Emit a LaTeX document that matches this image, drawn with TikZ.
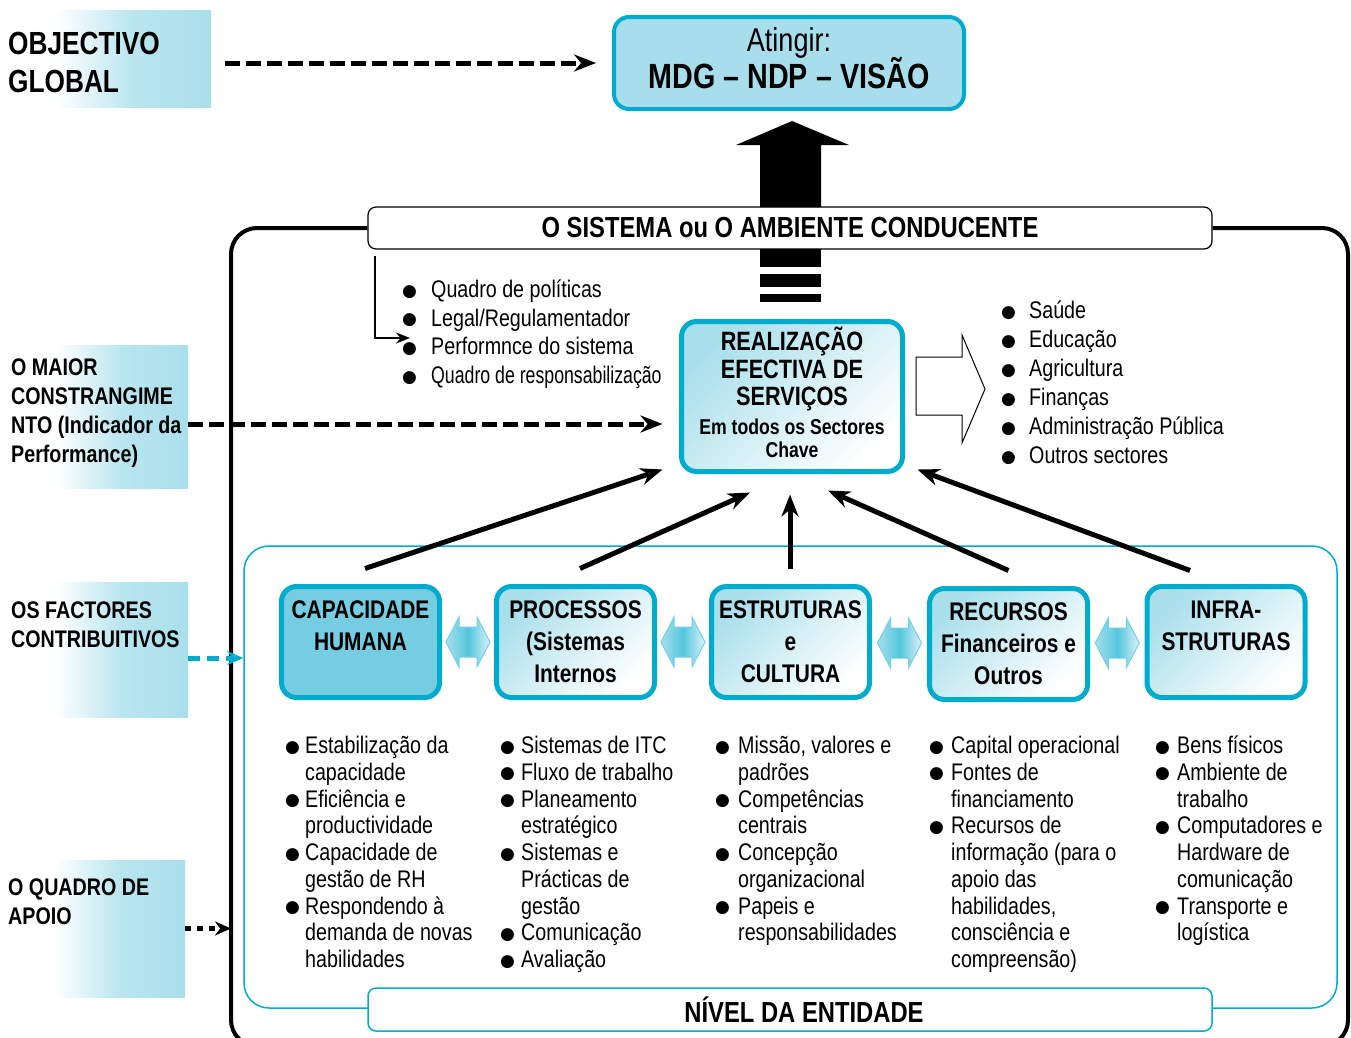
\documentclass[tikz,border=0pt]{standalone}
\usepackage{fontspec}
\setmainfont[FakeStretch=0.82]{Liberation Sans}
\newfontfamily\bulletfont{DejaVu Sans}
\usepackage{graphicx}
\usetikzlibrary{arrows.meta,calc}

\definecolor{cyanline}{RGB}{0,172,206}
\definecolor{cyanfill}{RGB}{168,222,236}
\definecolor{capfill}{RGB}{118,205,225}
\definecolor{lblue}{RGB}{168,223,235}
\definecolor{cyanmid}{RGB}{40,184,214}

\newcommand{\bul}{\raisebox{1.5pt}{\bulletfont\fontsize{17}{17}\selectfont ●}}
\newcommand{\labelfnt}{\bfseries\fontsize{24}{29}\selectfont}
\newcommand{\objfnt}{\bfseries\fontsize{32}{38}\selectfont}
\newcommand{\boxfnt}{\bfseries\fontsize{25.5}{32}\selectfont}
\newcommand{\headfnt}{\bfseries\fontsize{29}{34}\selectfont}

\begin{document}
\begin{tikzpicture}[x=1pt,y=-1pt,
    lbox/.style={inner sep=0pt, left color=white, right color=lblue, middle color=lblue!80},
    ltext/.style={anchor=west, align=left, inner sep=0pt, font=\labelfnt},
    keybase/.style={draw=cyanline, line width=5pt, rounded corners=15pt, minimum width=158pt,
      minimum height=111pt, inner sep=2pt, align=center, font=\boxfnt},
    gradbox/.style={keybase, top color=lblue, bottom color=white, shading angle=45},
    lst/.style={anchor=base west, inner sep=0pt},
    dasharr/.style={line width=5pt, dash pattern=on 15pt off 6pt, -{Stealth[length=22pt,width=17pt]}},
    uparr/.style={line width=5pt, -{Stealth[length=22pt,width=17pt]}},
    cyandash/.style={cyanline, line width=5pt, dash pattern=on 12pt off 7pt, -{Stealth[length=16pt,width=14pt]}},
    dotarr/.style={line width=5pt, dash pattern=on 6pt off 6pt, -{Stealth[length=16pt,width=14pt]}},
    dblarr/.style={draw=cyanline!55, line width=1pt, left color=lblue, right color=lblue!40, middle color=cyanmid!80}]

\useasboundingbox[fill=white] (0,0) rectangle (1351,1037);

% left labels
\node[lbox, minimum width=156pt, minimum height=97pt] (objbox) at (133,58.5) {};
\node[lbox, minimum width=133pt, minimum height=143pt] (maibox) at (121.5,416.5) {};
\node[lbox, minimum width=133pt, minimum height=135pt] (facbox) at (121.5,649.5) {};
\node[lbox, minimum width=130pt, minimum height=137pt] (apobox) at (120,928.5) {};
\node[ltext, font=\objfnt] (objtxt) at (8,62) {OBJECTIVO\\GLOBAL};
\node[ltext] (maitxt) at (11,413.5) {O MAIOR\\CONSTRANGIME\\NTO (Indicador da\\Performance)};
\node[ltext] (factxt) at (11,624.5) {OS FACTORES\\CONTRIBUITIVOS};
\node[ltext] (apotxt) at (8,902) {O QUADRO DE\\APOIO};

% frames
\node[draw, line width=1.2pt, fill=white, rounded corners=8pt, minimum width=844pt, minimum height=42pt,
  font=\headfnt] (sys) at (790,228) {O SISTEMA ou O AMBIENTE CONDUCENTE};
\draw[line width=4pt, rounded corners=26pt] (sys.west) -- (231,228) -- (231,1046) -- (1348,1046)
  -- (1348,228) -- (sys.east);
\coordinate (fl) at (231,228);
\node[draw=cyanline, line width=1.5pt, rounded corners=25pt, minimum width=1093pt, minimum height=462pt,
  inner sep=0pt] (ent) at (790.5,777) {};
\node[draw=cyanline, line width=1.5pt, fill=white, rounded corners=8pt, minimum width=844pt,
  minimum height=43pt, font=\headfnt] (niv) at (790,1009.5) {\hspace*{28pt}NÍVEL DA ENTIDADE};

% goal
\node[draw=cyanline, line width=4pt, fill=cyanfill, rounded corners=15pt, minimum width=350pt,
  minimum height=92pt, font=\fontsize{33}{36}\selectfont] (ating) at (789,63)
  {\begin{tabular}{@{}c@{}}Atingir:\\[-5pt]{\bfseries\fontsize{35}{36}\selectfont MDG – NDP – VISÃO}\end{tabular}};
\fill (760,207) -- (760,145) -- (736,145) -- (792,121) -- (849,145) -- (821,145) -- (821,207) -- cycle;
\fill (760,249) rectangle (821,267);
\fill (760,274) rectangle (821,287);
\fill (760,294) rectangle (821,302);

% service delivery
\node[gradbox, minimum width=221pt, minimum height=150pt, font=\bfseries\fontsize{26.5}{27.5}\selectfont]
  (real) at (792,396.5) {\raisebox{-2pt}{\begin{tabular}{@{}c@{}}REALIZAÇÃO\\EFECTIVA DE\\SERVIÇOS\\[1pt]
   {\fontsize{21.5}{24}\selectfont Em todos os Sectores}\\[-4pt]{\fontsize{21.5}{24}\selectfont Chave}\end{tabular}}};
\draw[line width=1pt, fill=white] (916,357) -- (962,357) -- (962,335) -- (985,389) -- (962,443)
  -- (962,415) -- (916,415) -- cycle;

\node[lst, font=\fontsize{24}{28.7}\selectfont] (lsys) at (402,297.5) {\begin{tabular}[t]{@{}p{29pt}@{}l@{}}
  \bul & Quadro de políticas\\
  \bul & Legal/Regulamentador\\
  \bul & Performnce do sistema\\
  \bul & \scalebox{0.9}[1]{Quadro de responsabilização}
  \end{tabular}};
\node[lst, font=\fontsize{24}{29}\selectfont] (lsec) at (1001,318.5) {\begin{tabular}[t]{@{}p{28pt}@{}l@{}}
  \bul & Saúde\\
  \bul & Educação\\
  \bul & Agricultura\\
  \bul & Finanças\\
  \bul & Administração Pública\\
  \bul & Outros sectores
  \end{tabular}};
\coordinate (b1) at (375,256);
\draw[line width=2pt, -{Stealth[length=14pt,width=11pt]}] (b1) |- (410,338);

% contributing factors
\node[keybase, fill=capfill] (cap) at (360.5,642) {CAPACIDADE\\HUMANA\\\phantom{X}};
\node[gradbox] (proc) at (575.5,642) {PROCESSOS\\(Sistemas\\Internos};
\node[gradbox] (estr) at (790.5,642) {ESTRUTURAS\\e\\CULTURA};
\node[gradbox] (rec) at (1008.5,644) {RECURSOS\\Financeiros e\\Outros};
\node[gradbox] (infra) at (1226,642) {INFRA-\\STRUTURAS\\\phantom{X}};

\foreach \a/\b in {cap/proc,proc/estr,estr/rec,rec/infra}
  \path[dblarr] ($(\a.east)!0.5!(\b.west)$) ++(-22,0) -- ++(13,-25) -- ++(0,10) -- ++(18,0) -- ++(0,-10)
    -- ++(13,25) -- ++(-13,25) -- ++(0,-10) -- ++(-18,0) -- ++(0,10) -- cycle;

\draw[uparr] ([xshift=4.5pt,yshift=15.5pt]cap.north) -- ([xshift=-16.5pt,yshift=4.5pt]real.south west);
\draw[uparr] ([xshift=4.5pt,yshift=15.5pt]proc.north) -- ([xshift=-42pt,yshift=-18.5pt]real.south);
\draw[uparr] ([xshift=-0.5pt,yshift=15.5pt]estr.north) -- ([xshift=-2pt,yshift=-20.5pt]real.south);
\draw[uparr] ([yshift=15.5pt]rec.north) -- ([xshift=36pt,yshift=-16.5pt]real.south);
\draw[uparr] ([xshift=-36pt,yshift=13.5pt]infra.north) -- ([xshift=12.5pt,yshift=4.5pt]real.south east);

% dashed links
\draw[dasharr, shorten <=14pt, shorten >=16pt] (objbox.east |- ating.west) -- (ating.west);
\coordinate (m1) at ([yshift=-7.5pt]maibox.east);
\draw[dasharr, shorten >=16.5pt] (m1) -- (m1 -| real.west);
\coordinate (f1) at ([yshift=-8.5pt]facbox.east);
\draw[cyandash] (f1) -- (f1 -| ent.west);
\draw[dotarr] (apobox.east) -- (apobox.east -| fl);

% lists
\node[lst, font=\fontsize{24}{26.75}\selectfont] (lcap) at (285,753.5) {\begin{tabular}[t]{@{}p{20pt}@{}l@{}}
  \bul & Estabilização da\\ & capacidade\\
  \bul & Eficiência e\\ & productividade\\
  \bul & Capacidade de\\ & gestão de RH\\
  \bul & Respondendo à\\ & demanda de novas\\ & habilidades
  \end{tabular}};
\node[lst, font=\fontsize{24}{26.75}\selectfont] (lproc) at (500,753.5) {\begin{tabular}[t]{@{}p{21pt}@{}l@{}}
  \bul & Sistemas de ITC\\
  \bul & Fluxo de trabalho\\
  \bul & Planeamento\\ & estratégico\\
  \bul & Sistemas e\\ & Prácticas de\\ & gestão\\
  \bul & Comunicação\\
  \bul & Avaliação
  \end{tabular}};
\node[lst, font=\fontsize{24}{26.75}\selectfont] (lestr) at (715,753.5) {\begin{tabular}[t]{@{}p{23pt}@{}l@{}}
  \bul & Missão, valores e\\ & padrões\\
  \bul & Competências\\ & centrais\\
  \bul & Concepção\\ & organizacional\\
  \bul & Papeis e\\ & responsabilidades
  \end{tabular}};
\node[lst, font=\fontsize{24}{26.75}\selectfont] (lrec) at (929,753.5) {\begin{tabular}[t]{@{}p{22pt}@{}l@{}}
  \bul & Capital operacional\\
  \bul & Fontes de\\ & financiamento\\
  \bul & Recursos de\\ & informação (para o\\ & apoio das\\ & habilidades,\\ & consciência e\\ & compreensão)
  \end{tabular}};
\node[lst, font=\fontsize{24}{26.75}\selectfont] (linfra) at (1155,753.5) {\begin{tabular}[t]{@{}p{22pt}@{}l@{}}
  \bul & Bens físicos\\
  \bul & Ambiente de\\ & trabalho\\
  \bul & Computadores e\\ & Hardware de\\ & comunicação\\
  \bul & Transporte e\\ & logística
  \end{tabular}};
\end{tikzpicture}
\end{document}
